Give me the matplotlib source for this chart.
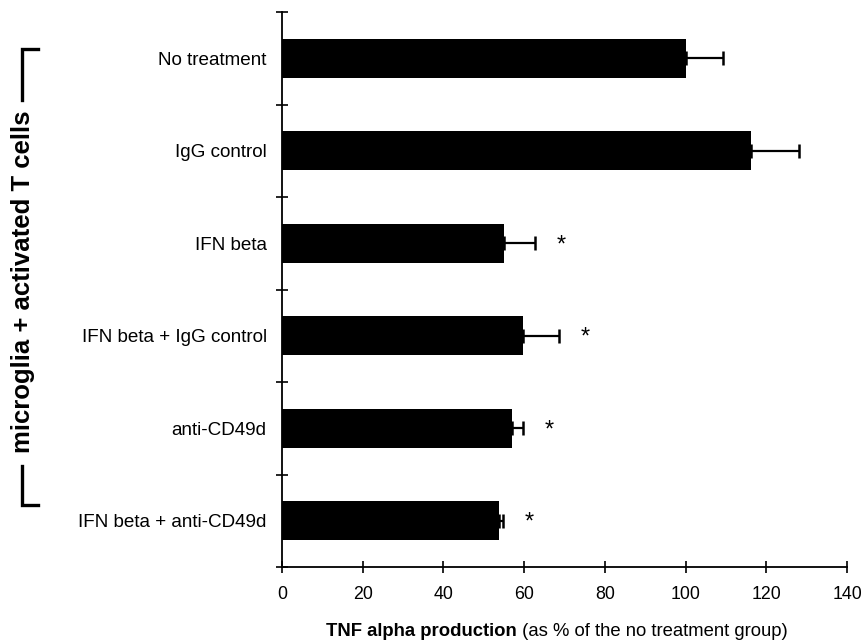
import numpy as np
import matplotlib.pyplot as plt
from matplotlib.lines import Line2D

plt.rcParams['font.family'] = ['Liberation Sans', 'DejaVu Sans']

# data
groups = ['No treatment', 'IgG control', 'IFN beta', 'IFN beta + IgG control',
          'anti-CD49d', 'IFN beta + anti-CD49d']
tnf = [100.0, 116.2, 54.9, 59.8, 56.9, 53.7]
sem = [9.2, 12.0, 7.7, 8.9, 2.8, 1.0]
signif = [False, False, True, True, True, True]

W, H = 863, 641
fig = plt.figure(figsize=(W / 100, H / 100), dpi=100)
# axes box in pixels: x 282..847, y 12..567
ax = fig.add_axes([282 / W, 1 - 567 / H, (847 - 282) / W, (567 - 12) / H])

pos = np.arange(len(groups))
ax.barh(pos, tnf, height=0.42, color='black', edgecolor='none', zorder=2)
ax.errorbar(tnf, pos, xerr=[np.zeros(len(sem)), sem], fmt='none',
            ecolor='black', elinewidth=1.6, capsize=5, capthick=1.8, zorder=3)

for i in range(len(groups)):
    if signif[i]:
        ax.text(tnf[i] + sem[i] + 6.5, pos[i] + 0.02, '*', ha='center',
                va='center', fontsize=17, color='black')

ax.set_xlim(0, 140)
ax.set_ylim(len(groups) - 0.5, -0.5)
ax.set_xticks(np.arange(0, 141, 20))
ax.set_yticks(pos)
ax.set_yticklabels(groups)
ax.set_yticks(np.arange(-0.5, len(groups)), minor=True)

ax.tick_params(axis='y', which='major', length=0, pad=11, labelsize=13.6)
ax.tick_params(axis='y', which='minor', direction='inout', length=9, width=1.2)
ax.tick_params(axis='x', direction='inout', length=9, width=1.2, pad=9,
               labelsize=12.8)

for side in ['top', 'right']:
    ax.spines[side].set_visible(False)
for side in ['left', 'bottom']:
    ax.spines[side].set_linewidth(1.3)

# x label: bold part + normal part
t1 = ax.text((326 - 282) / (847 - 282), -0.116, 'TNF alpha production',
             transform=ax.transAxes, fontsize=13.3, fontweight='bold',
             ha='left', va='center')
ax.annotate(' (as % of the no treatment group)', xy=(1, 0.5), xycoords=t1,
            fontsize=13.3, ha='left', va='center')

# group bracket on the left
fig.text(23 / W, 1 - 282 / H, 'microglia + activated T cells', rotation=90,
         fontsize=18.5, fontweight='bold', ha='center', va='center')


def px_line(xs, ys):
    fig.add_artist(Line2D([x / W for x in xs], [1 - y / H for y in ys],
                          transform=fig.transFigure, color='black', lw=2.4,
                          solid_joinstyle='miter'))


px_line([38, 22, 22], [49, 49, 100])
px_line([22, 22, 38], [466, 505, 505])

fig.savefig('out.png', dpi=100)
